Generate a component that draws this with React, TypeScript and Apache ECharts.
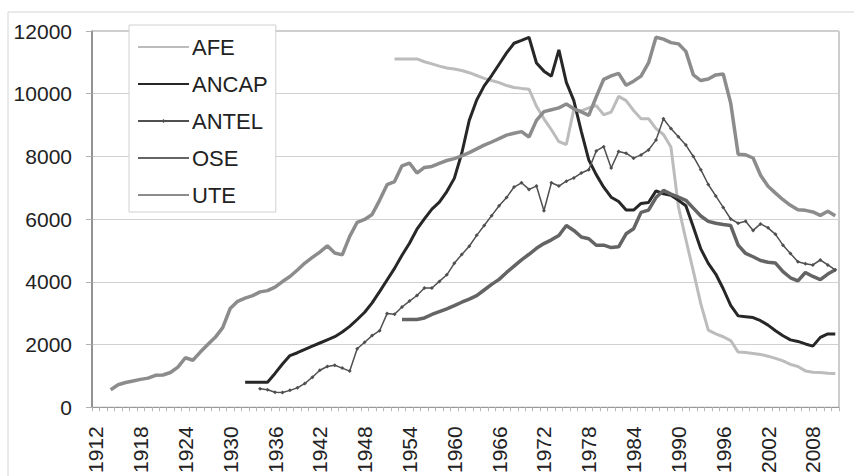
import React, { useEffect, useRef } from "react";
import * as echarts from "echarts";

const FIRST_YEAR = 1912;
const LAST_YEAR = 2011;
const YEARS: string[] = [];
for (let y = FIRST_YEAR; y <= LAST_YEAR; y++) YEARS.push(String(y));

const Y_MIN = 0;
const Y_MAX = 12000;
const Y_STEP = 2000;

const AFE_START = 1952;
const AFE = [
  11110, 11110, 11110, 11110, 11020, 10950, 10880, 10820,
  10790, 10740, 10670, 10580, 10490, 10420, 10355, 10260, 10200, 10170,
  10145, 9600, 9200, 8850, 8470, 8380, 9500, 9450, 9550, 9620,
  9330, 9412, 9916, 9779, 9465, 9203, 9203, 8888, 8700, 8300,
  6400, 5350, 4340, 3300, 2460, 2339, 2250, 2128, 1761, 1745,
  1715, 1685, 1630, 1560, 1480, 1370, 1300, 1160, 1120, 1110, 1085, 1080,
];

const ANCAP_START = 1932;
const ANCAP = [
  800, 800, 800, 800, 1080, 1380, 1650, 1740,
  1850, 1950, 2050, 2150, 2250, 2400, 2580, 2800, 3030, 3330,
  3690, 4060, 4430, 4850, 5230, 5680, 6010, 6320, 6540, 6880,
  7300, 8100, 9150, 9800, 10250, 10580, 10940, 11300, 11610, 11700,
  11800, 10980, 10720, 10560, 11400, 10360, 9780, 8800, 7890, 7420,
  7020, 6700, 6560, 6290, 6290, 6500, 6530, 6900, 6810, 6760,
  6600, 6430, 5750, 5050, 4590, 4250, 3780, 3250, 2915, 2890,
  2860, 2760, 2620, 2440, 2280, 2150, 2100, 2020, 1950, 2230, 2340, 2340,
];

const ANTEL_START = 1934;
const ANTEL = [
  590, 560, 480, 470, 540, 620,
  760, 960, 1180, 1300, 1342, 1250, 1154, 1867, 2075, 2286,
  2443, 2987, 2968, 3197, 3386, 3565, 3804, 3804, 4015, 4225,
  4590, 4873, 5137, 5483, 5797, 6112, 6426, 6688, 7024, 7159,
  6948, 7055, 6269, 7159, 7055, 7212, 7316, 7470, 7577, 8175,
  8312, 7630, 8155, 8102, 7945, 8049, 8206, 8520, 9203, 8888,
  8627, 8363, 7998, 7577, 7105, 6740, 6373, 6005, 5870, 5933,
  5640, 5848, 5722, 5515, 5169, 4905, 4644, 4580, 4540, 4697, 4540, 4383,
];

const OSE_START = 1953;
const OSE = [
  2800, 2800, 2800, 2850, 2960, 3050, 3140,
  3240, 3350, 3450, 3560, 3740, 3920, 4080, 4300, 4500, 4700,
  4880, 5070, 5220, 5340, 5480, 5797, 5640, 5430, 5376, 5169,
  5169, 5093, 5116, 5533, 5691, 6216, 6288, 6688, 6917, 6800,
  6700, 6600, 6350, 6100, 5930, 5870, 5830, 5797, 5169, 4905,
  4801, 4680, 4625, 4600, 4329, 4130, 4030, 4298, 4172, 4068, 4250, 4383,
];

const UTE_START = 1914;
const UTE = [
  560, 720, 790, 840, 890, 930,
  1020, 1030, 1110, 1280, 1580, 1500, 1760, 2000, 2230, 2540,
  3150, 3380, 3480, 3560, 3680, 3720, 3830, 4010, 4170, 4380,
  4600, 4780, 4950, 5150, 4920, 4860, 5450, 5900, 5990, 6150,
  6600, 7100, 7200, 7700, 7790, 7470, 7650, 7680, 7780, 7870,
  7930, 8020, 8120, 8240, 8360, 8460, 8570, 8680, 8740, 8790,
  8620, 9150, 9430, 9490, 9550, 9670, 9520, 9420, 9310, 9900,
  10460, 10570, 10650, 10270, 10400, 10560, 10980, 11800, 11740, 11630,
  11590, 11350, 10600, 10420, 10470, 10600, 10630, 9700, 8070, 8050,
  7950, 7400, 7050, 6830, 6620, 6440, 6300, 6280, 6230, 6120, 6250, 6110,
];

const SERIES_NAMES = ["AFE", "ANCAP", "ANTEL", "OSE", "UTE"];
const MARKED_SERIES = "ANTEL";

function pad(start: number, values: number[]): (number | null)[] {
  return YEARS.map((y) => {
    const i = Number(y) - start;
    return i >= 0 && i < values.length ? values[i] : null;
  });
}

const FONT = "'Liberation Sans', Arial, sans-serif";

export default function App() {
  const ref = useRef<HTMLDivElement>(null);
  useEffect(() => {
    if (!ref.current) return;
    const chart = echarts.init(ref.current, undefined, { renderer: "svg" });
    const lineSeries = (
      name: string,
      data: (number | null)[],
      color: string,
      width: number,
      marker = false
    ) => ({
      name,
      type: "line",
      data,
      connectNulls: false,
      showSymbol: marker,
      symbol: marker ? "diamond" : "none",
      symbolSize: marker ? 4 : 0,
      itemStyle: { color },
      lineStyle: { color, width },
      emphasis: { disabled: true },
    });
    chart.setOption({
      animation: false,
      backgroundColor: "#ffffff",
      textStyle: { fontFamily: FONT },
      graphic: [
        {
          type: "rect",
          shape: { x: 8, y: 12, width: 900, height: 500 },
          style: { fill: "none", stroke: "#d4d4d4", lineWidth: 1 },
          silent: true,
          z: -1,
        },
      ],
      grid: {
        left: 92,
        top: 31,
        width: 747,
        height: 382,
        show: true,
        borderColor: "#9a9a9a",
        borderWidth: 1,
        backgroundColor: "transparent",
      },
      legend: {
        orient: "vertical",
        left: 129,
        top: 25,
        data: SERIES_NAMES.map((n) =>
          n === MARKED_SERIES ? { name: n } : { name: n, itemStyle: { opacity: 0 } }
        ),
        itemWidth: 51,
        itemHeight: 5,
        itemGap: 13,
        padding: [10, 8, 5, 8],
        backgroundColor: "#ffffff",
        borderColor: "#d0d0d0",
        borderWidth: 1,
        textStyle: {
          fontFamily: FONT,
          fontSize: 22,
          color: "#222222",
          lineHeight: 24,
          padding: [0, 0, 0, -2],
        },
        selectedMode: false,
      },
      xAxis: {
        type: "category",
        data: YEARS,
        boundaryGap: true,
        axisLine: { show: true, lineStyle: { color: "#999999", width: 1 } },
        axisTick: {
          show: true,
          interval: 0,
          length: 4,
          lineStyle: { color: "#b8b8b8" },
        },
        axisLabel: {
          interval: 5,
          rotate: 90,
          margin: 19,
          fontFamily: FONT,
          fontSize: 21,
          color: "#222222",
        },
        splitLine: { show: false },
      },
      yAxis: {
        type: "value",
        min: Y_MIN,
        max: Y_MAX,
        interval: Y_STEP,
        axisLine: { show: true, lineStyle: { color: "#808080", width: 1.5 } },
        axisTick: { show: true, length: 6, lineStyle: { color: "#b0b0b0" } },
        axisLabel: {
          margin: 20,
          fontFamily: FONT,
          fontSize: 21,
          color: "#222222",
          formatter: (v: number) => String(v),
        },
        splitLine: { show: true, lineStyle: { color: "#d0d0d0", width: 1 } },
      },
      series: [
        lineSeries("AFE", pad(AFE_START, AFE), "#bcbcbc", 3),
        lineSeries("ANCAP", pad(ANCAP_START, ANCAP), "#272727", 3),
        lineSeries("ANTEL", pad(ANTEL_START, ANTEL), "#505050", 1.5, true),
        lineSeries("OSE", pad(OSE_START, OSE), "#646464", 3.5),
        lineSeries("UTE", pad(UTE_START, UTE), "#8c8c8c", 3.5),
      ],
    });
    return () => chart.dispose();
  }, []);
  return (
    <div
      ref={ref}
      style={{ position: "absolute", left: 0, top: 0, width: 854, height: 476 }}
    />
  );
}
